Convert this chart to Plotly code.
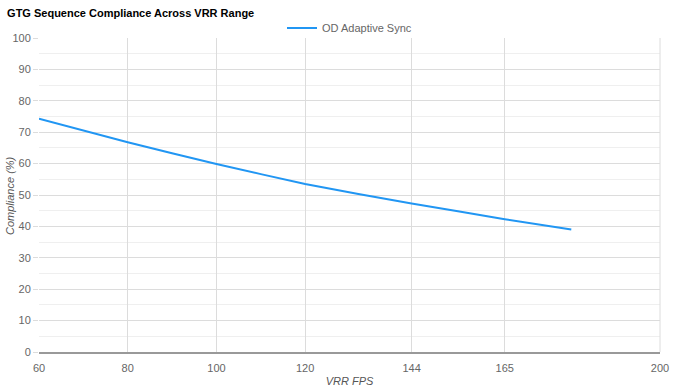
import plotly.graph_objects as go

fps = [60, 80, 100, 120, 144, 165, 180]
compliance = [74.3, 66.8, 59.9, 53.5, 47.3, 42.3, 39.0]
x_ticks = [60, 80, 100, 120, 144, 165, 200]
series_name = "OD Adaptive Sync"

fig = go.Figure()
fig.add_trace(go.Scatter(
    x=fps, y=compliance, mode="lines", name=series_name,
    line=dict(color="#2196F3", width=2, shape="spline", smoothing=0.4),
))

grid = "#dcdcdc"
fig.update_layout(
    width=675, height=390,
    margin=dict(l=39, r=15, t=38, b=38, autoexpand=False),
    paper_bgcolor="white", plot_bgcolor="white",
    font=dict(family="Liberation Sans, Arial, sans-serif", size=11, color="#666666"),
    title=dict(text="<b>GTG Sequence Compliance Across VRR Range</b>",
               x=0.0105, xanchor="left", y=0.976, yanchor="top",
               font=dict(size=11, color="#000000")),
    showlegend=True,
    legend=dict(orientation="h", x=0.50, xanchor="center", y=1.032, yanchor="middle",
                font=dict(size=11, color="#666666"), itemwidth=30,
                bgcolor="rgba(0,0,0,0)"),
    xaxis=dict(
        range=[60, 200], tickvals=x_ticks, ticktext=[str(v) for v in x_ticks],
        showgrid=True, gridcolor=grid, gridwidth=1, automargin=False,
        showline=True, linecolor="#999999", linewidth=1.5,
        zeroline=False, ticks="", mirror=False, ticklabelstandoff=5,
        tickfont=dict(color="#666666"),
        title=dict(text="<i>VRR FPS</i>", standoff=4, font=dict(size=11, color="#555555")),
    ),
    yaxis=dict(
        range=[0, 100], dtick=10, automargin=False,
        showgrid=True, gridcolor=grid, gridwidth=1,
        minor=dict(dtick=5, showgrid=True, gridcolor="#efefef", gridwidth=1),
        showline=False, zeroline=False,
        ticks="outside", ticklen=5, tickcolor=grid,
        tickfont=dict(color="#666666"),
    ),
    annotations=[dict(text="<i>Compliance (%)</i>", textangle=-90,
                      xref="paper", yref="paper", x=-0.0467, y=0.5,
                      xanchor="center", yanchor="middle", showarrow=False,
                      font=dict(size=11, color="#555555"))],
)
fig.add_shape(type="line", xref="paper", yref="paper", x0=1, x1=1, y0=0, y1=1,
              line=dict(color=grid, width=1))

fig.write_html("out.html", config={"displayModeBar": False},
               post_script="document.body.style.margin='0';")
